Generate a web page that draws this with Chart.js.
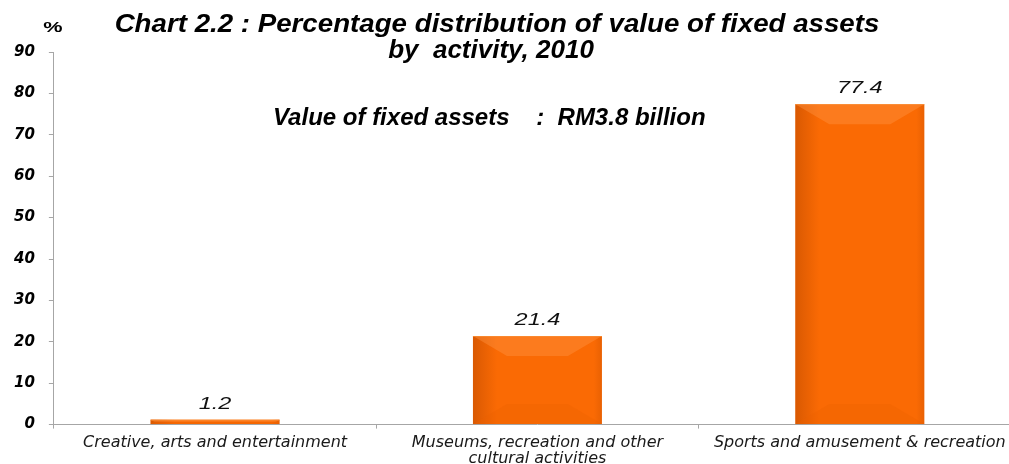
<!DOCTYPE html>
<html>
<head>
<meta charset="utf-8">
<title>Chart 2.2</title>
<script src="https://cdn.jsdelivr.net/npm/chart.js@4.4.0/dist/chart.umd.min.js"></script>
<style>
  html, body { margin: 0; padding: 0; background: #fff; overflow: hidden; }
  #wrap { width: 1009px; height: 464px; overflow: hidden; }
  canvas { display: block; }
</style>
</head>
<body>
<div id="wrap"><canvas id="assets-chart" width="1021" height="464"></canvas></div>
<script>
// Data
const activities = [
    'Creative, arts and entertainment',
    ['Museums, recreation and other', 'cultural activities'],
    'Sports and amusement & recreation'
];
const shares = [1.2, 21.4, 77.4];
const yTicks = [0, 10, 20, 30, 40, 50, 60, 70, 80, 90];

const titleLines = [
    'Chart 2.2 : Percentage distribution of value of fixed assets',
    'by  activity, 2010'
];
const subTitle = 'Value of fixed assets    :  RM3.8 billion';

const axisGrey = '#a6a6a6';

// draws text squeezed / stretched horizontally
function drawText(ctx, text, x, y, font, align, sx) {
    ctx.save();
    ctx.font = font;
    ctx.textAlign = align;
    ctx.textBaseline = 'alphabetic';
    ctx.translate(x, y);
    ctx.scale(sx, 1);
    ctx.fillText(text, 0, 0);
    ctx.restore();
}

// bevel look on the bars
const bevelPlugin = {
    id: 'bevel',
    afterDatasetsDraw(chart) {
        const ctx = chart.ctx;
        const meta = chart.getDatasetMeta(0);
        meta.data.forEach(function(bar) {
            const left = bar.x - bar.width / 2;
            const right = bar.x + bar.width / 2;
            const top = bar.y;
            const bottom = bar.base;
            const h = bottom - top;
            const b = Math.min(20, h / 2);
            const d = b * 1.7;

            ctx.save();
            // darker left side
            let g = ctx.createLinearGradient(left, 0, left + 24, 0);
            g.addColorStop(0, 'rgba(190,75,0,0.55)');
            g.addColorStop(1, 'rgba(190,75,0,0)');
            ctx.fillStyle = g;
            ctx.fillRect(left, top, 24, h);

            // right edge
            g = ctx.createLinearGradient(right - 8, 0, right, 0);
            g.addColorStop(0, 'rgba(200,80,0,0)');
            g.addColorStop(1, 'rgba(200,80,0,0.35)');
            ctx.fillStyle = g;
            ctx.fillRect(right - 8, top, 8, h);

            // top bevel (lighter)
            ctx.beginPath();
            ctx.moveTo(left, top);
            ctx.lineTo(right, top);
            ctx.lineTo(right - d, top + b);
            ctx.lineTo(left + d, top + b);
            ctx.closePath();
            ctx.fillStyle = 'rgba(255,150,70,0.4)';
            ctx.fill();

            // bottom bevel
            ctx.beginPath();
            ctx.moveTo(left, bottom);
            ctx.lineTo(right, bottom);
            ctx.lineTo(right - d, bottom - b);
            ctx.lineTo(left + d, bottom - b);
            ctx.closePath();
            ctx.fillStyle = 'rgba(235,95,0,0.3)';
            ctx.fill();

            ctx.strokeStyle = 'rgba(250,140,50,0.8)';
            ctx.lineWidth = 1;
            ctx.beginPath();
            ctx.moveTo(left, top + 0.5);
            ctx.lineTo(right, top + 0.5);
            ctx.stroke();
            ctx.restore();
        });
    }
};

// titles and value labels
const textPlugin = {
    id: 'texts',
    afterDraw(chart) {
        const ctx = chart.ctx;
        ctx.save();
        ctx.fillStyle = '#000';
        drawText(ctx, titleLines[0], 497, 32, 'italic bold 26px "Liberation Sans", Arial', 'center', 1.065);
        drawText(ctx, titleLines[1], 491, 58, 'italic bold 26px "Liberation Sans", Arial', 'center', 1);
        drawText(ctx, '%', 53, 32, 'bold 14px "Liberation Sans", Arial', 'center', 1.55);
        drawText(ctx, subTitle, 273, 125, 'italic bold 24px "Liberation Sans", Arial', 'left', 1);

        ctx.fillStyle = '#111';
        const meta = chart.getDatasetMeta(0);
        meta.data.forEach(function(bar, i) {
            drawText(ctx, shares[i].toFixed(1), bar.x, bar.y - 11, 'italic 17px "Liberation Sans", Arial', 'center', 1.38);
        });
        ctx.restore();
    }
};

const ctx = document.getElementById('assets-chart').getContext('2d');
new Chart(ctx, {
    type: 'bar',
    data: {
        labels: activities,
        datasets: [{
            data: shares,
            backgroundColor: '#fa6a04',
            borderWidth: 0,
            barPercentage: 0.5,
            categoryPercentage: 0.8
        }]
    },
    options: {
        responsive: false,
        animation: false,
        layout: { padding: { top: 52, left: 0, right: 0, bottom: -9 } },
        plugins: {
            legend: { display: false },
            tooltip: { enabled: false }
        },
        scales: {
            x: {
                grid: { drawOnChartArea: false, drawTicks: true, tickLength: 4, color: axisGrey, offset: true },
                border: { color: axisGrey },
                ticks: {
                    color: '#1a1a1a',
                    padding: 7,
                    maxRotation: 0,
                    autoSkip: false,
                    font: { family: 'DejaVu Sans', size: 16, style: 'italic', lineHeight: 0.95 }
                }
            },
            y: {
                min: 0,
                max: 90,
                afterBuildTicks: function(scale) {
                    scale.ticks = yTicks.map(function(v) { return { value: v }; });
                },
                grid: { drawOnChartArea: false, drawTicks: true, tickLength: 5, color: axisGrey },
                border: { color: axisGrey },
                ticks: {
                    color: '#000',
                    padding: 14,
                    font: { family: 'DejaVu Sans', size: 15, style: 'italic', weight: 'bold' }
                }
            }
        }
    },
    plugins: [bevelPlugin, textPlugin]
});
</script>
</body>
</html>
